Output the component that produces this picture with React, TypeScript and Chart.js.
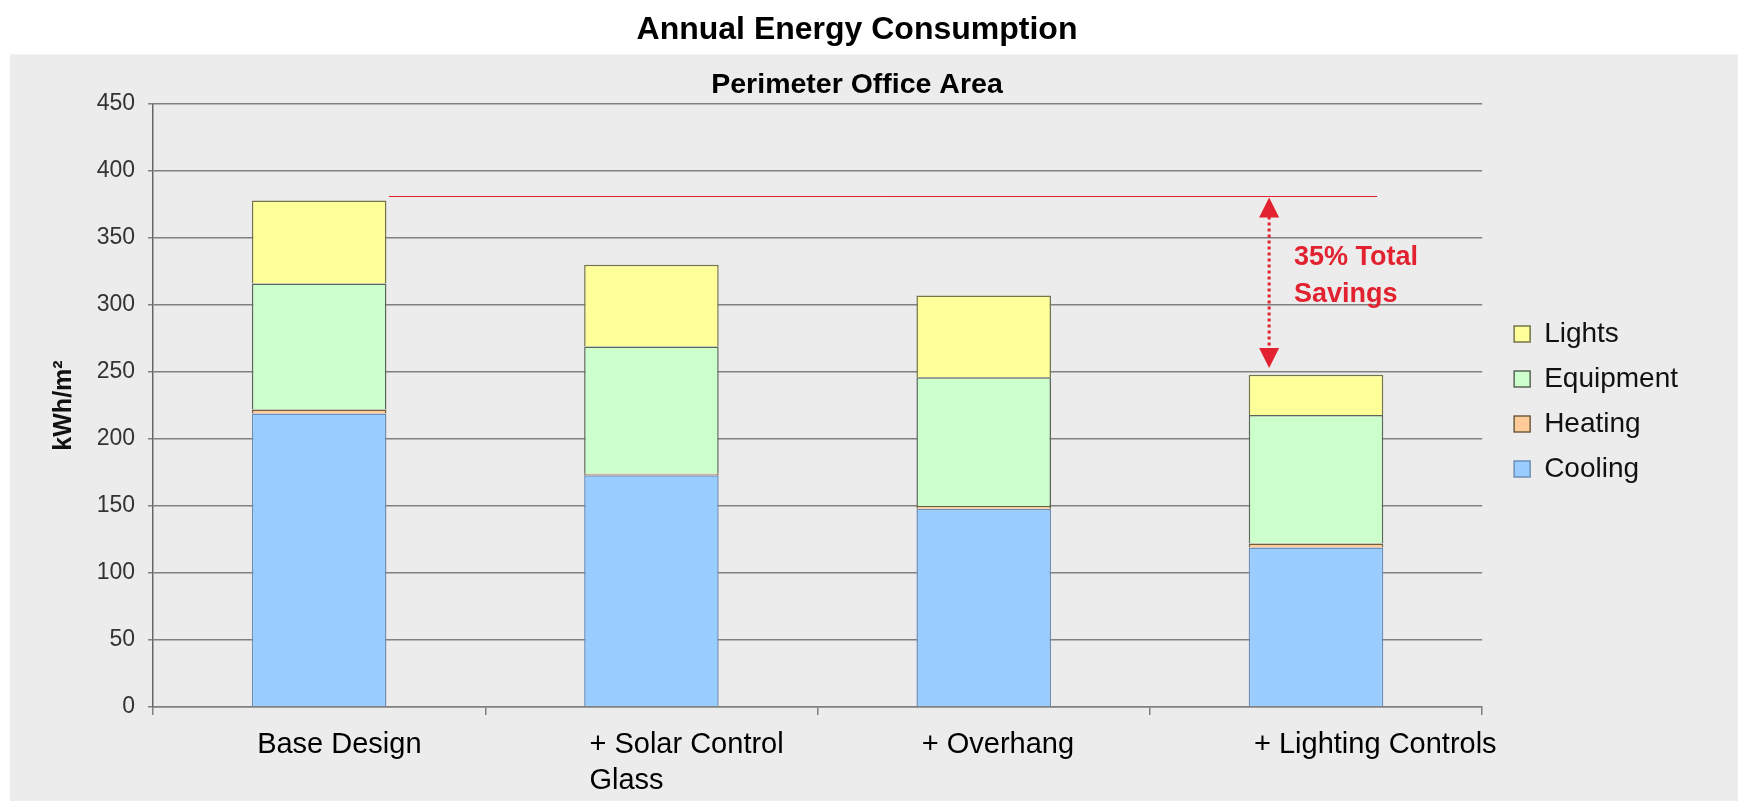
import React, { useEffect, useRef } from 'react';
import { Chart, registerables } from 'chart.js';

Chart.register(...registerables);

// ---- data ----
const categories: string[][] = [
  ['Base Design'],
  ['+ Solar Control', 'Glass'],
  ['+ Overhang'],
  ['+ Lighting Controls'],
];
const cooling = [219, 173, 148, 119];
const heating = [3, 1, 2, 3];
const equipment = [94, 95, 96, 96];
const lights = [62, 61, 61, 30];

const yMin = 0;
const yMax = 450;
const yStep = 50;

const titleText = 'Annual Energy Consumption';
const subtitleText = 'Perimeter Office Area';
const yTitle = 'kWh/m²';

// annotation: savings arrow between the base total line and the final design
const savingsTop = 381;
const savingsBottom = 253;
const savingsLabel = ['35% Total', 'Savings'];

// ---- styles ----
const FONT = '"Liberation Sans", Arial, sans-serif';
const RED = '#e2222f';
const GRID = '#808080';

const backgroundPlugin = {
  id: 'panelBackground',
  beforeDraw(chart: any) {
    const { ctx } = chart;
    const top = chart.titleBlock ? chart.titleBlock.bottom : 55;
    ctx.save();
    ctx.fillStyle = '#ffffff';
    ctx.fillRect(0, 0, chart.width, chart.height);
    ctx.fillStyle = '#ececec';
    ctx.fillRect(10, top, chart.width - 10, chart.height - top);
    ctx.restore();
  },
};

const legendNudgePlugin = {
  id: 'legendNudge',
  afterLayout(chart: any) {
    if (chart.legend) {
      chart.legend.top -= 4;
      chart.legend.bottom -= 4;
    }
  },
};

const savingsPlugin = {
  id: 'savingsArrow',
  afterDatasetsDraw(chart: any) {
    const { ctx } = chart;
    const x = chart.scales.x;
    const y = chart.scales.y;
    const c0 = x.getPixelForValue(0);
    const c3 = x.getPixelForValue(3);
    const catW = x.getPixelForValue(1) - c0;
    const yTop = y.getPixelForValue(savingsTop);
    const yBot = y.getPixelForValue(savingsBottom);
    const x0 = c0 + 0.21 * catW;
    const x1 = c3 + 0.184 * catW;
    const ax = c3 - 0.141 * catW;
    const head = 20;
    const hw = 10;

    ctx.save();
    // reference line
    ctx.strokeStyle = RED;
    ctx.lineWidth = 1;
    ctx.beginPath();
    ctx.moveTo(x0, Math.round(yTop) + 0.5);
    ctx.lineTo(x1, Math.round(yTop) + 0.5);
    ctx.stroke();

    // dotted shaft
    ctx.lineWidth = 3;
    ctx.setLineDash([3, 3]);
    ctx.beginPath();
    ctx.moveTo(ax, yTop + head);
    ctx.lineTo(ax, yBot - head);
    ctx.stroke();
    ctx.setLineDash([]);

    // heads
    ctx.fillStyle = RED;
    ctx.beginPath();
    ctx.moveTo(ax, yTop + 1);
    ctx.lineTo(ax - hw, yTop + head + 1);
    ctx.lineTo(ax + hw, yTop + head + 1);
    ctx.closePath();
    ctx.fill();
    ctx.beginPath();
    ctx.moveTo(ax, yBot);
    ctx.lineTo(ax - hw, yBot - head);
    ctx.lineTo(ax + hw, yBot - head);
    ctx.closePath();
    ctx.fill();

    // label
    const tx = c3 - 0.066 * catW;
    const mid = (yTop + yBot) / 2;
    ctx.font = `bold 27px ${FONT}`;
    ctx.textAlign = 'left';
    ctx.textBaseline = 'alphabetic';
    ctx.fillText(savingsLabel[0], tx, mid - 17);
    ctx.fillText(savingsLabel[1], tx, mid + 20);
    ctx.restore();
  },
};

export default function App() {
  const canvasRef = useRef<HTMLCanvasElement | null>(null);

  useEffect(() => {
    if (!canvasRef.current) return;
    const chart = new Chart(canvasRef.current, {
      type: 'bar',
      data: {
        labels: categories,
        datasets: [
          {
            label: 'Cooling',
            data: cooling,
            backgroundColor: '#99ccff',
            borderColor: '#6b8fb8',
            borderWidth: 1.5,
            yAxisID: 'y',
          },
          {
            label: 'Heating',
            data: heating,
            backgroundColor: '#ffcc99',
            borderColor: '#6e5e40',
            borderWidth: 1.5,
            yAxisID: 'y',
          },
          {
            label: 'Equipment',
            data: equipment,
            backgroundColor: '#ccffcc',
            borderColor: '#5a665a',
            borderWidth: 1.5,
            yAxisID: 'y',
          },
          {
            label: 'Lights',
            data: lights,
            backgroundColor: '#ffff99',
            borderColor: '#74744a',
            borderWidth: 1.5,
            yAxisID: 'y',
          },
        ],
      },
      options: {
        responsive: false,
        animation: false,
        devicePixelRatio: 1,
        datasets: {
          bar: {
            categoryPercentage: 1,
            barPercentage: 0.405,
          },
        },
        layout: {
          padding: { left: 26, right: 50, top: 0, bottom: 0 },
        },
        scales: {
          x: {
            stacked: true,
            grid: {
              display: true,
              drawOnChartArea: false,
              drawTicks: true,
              tickLength: 8,
              color: GRID,
              lineWidth: 1.5,
              offset: true,
            },
            border: { display: true, color: GRID, width: 1.5 },
            ticks: {
              align: 'start',
              labelOffset: -62,
              padding: 12,
              maxRotation: 0,
              autoSkip: false,
              color: '#000',
              font: { family: FONT, size: 29, lineHeight: 1.25 },
            },
            afterFit: (s: any) => {
              s.height = 94;
            },
          },
          y: {
            stacked: true,
            min: yMin,
            max: yMax,
            ticks: {
              stepSize: yStep,
              padding: 13,
              color: '#333',
              font: { family: FONT, size: 23 },
            },
            grid: {
              color: GRID,
              lineWidth: 1.5,
              tickLength: 5,
            },
            border: { display: true, color: '#666', width: 1.5 },
            title: {
              display: true,
              text: yTitle,
              color: '#111',
              font: { family: FONT, size: 25, weight: 'bold' },
              padding: { top: 23, bottom: 0 },
            },
            afterFit: (s: any) => {
              s.width = 127;
            },
          },
          yPad: {
            type: 'linear',
            position: 'right',
            display: true,
            grid: { display: false },
            ticks: { display: false },
            border: { display: false },
            afterFit: (s: any) => {
              s.width = 15;
            },
          },
        },
        plugins: {
          tooltip: { enabled: false },
          title: {
            display: true,
            text: titleText,
            color: '#000',
            font: { family: FONT, size: 32, weight: 'bold' },
            padding: { top: 11, bottom: 5 },
          },
          subtitle: {
            display: true,
            text: subtitleText,
            color: '#000',
            font: { family: FONT, size: 28.5, weight: 'bold' },
            padding: { top: 13.5, bottom: 1.9 },
          },
          legend: {
            display: true,
            position: 'right',
            align: 'center',
            fullSize: false,
            reverse: true,
            labels: {
              boxWidth: 16,
              boxHeight: 16,
              padding: 17,
              color: '#111',
              font: { family: FONT, size: 28 },
            },
          },
        },
      },
      plugins: [backgroundPlugin, legendNudgePlugin, savingsPlugin],
    } as any);
    return () => chart.destroy();
  }, []);

  return (
    <div style={{ position: 'fixed', left: 0, top: 0, width: 1738, height: 801 }}>
      <canvas ref={canvasRef} width={1738} height={801} style={{ display: 'block' }} />
    </div>
  );
}
